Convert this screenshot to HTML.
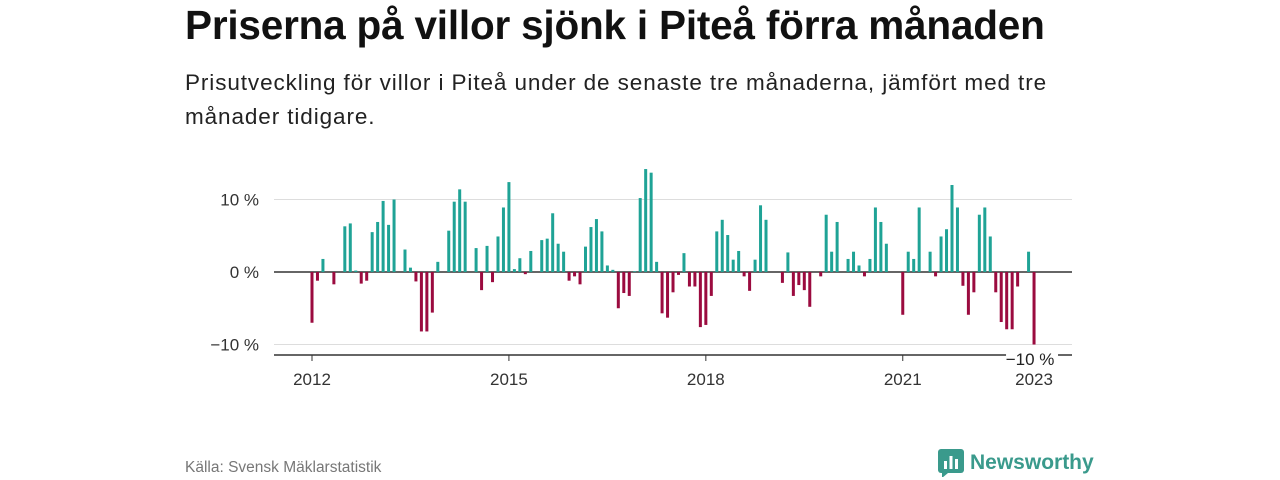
<!DOCTYPE html>
<html><head><meta charset="utf-8"><style>
body{margin:0;width:1280px;height:480px;background:#fff;font-family:"Liberation Sans","DejaVu Sans",sans-serif;overflow:hidden;position:relative}
.t{position:absolute;left:185px;top:2px;font-size:40.5px;font-weight:bold;color:#111;margin:0;letter-spacing:-0.2px;white-space:nowrap}
.s{position:absolute;left:185px;top:66px;font-size:22.5px;line-height:34px;color:#222;width:880px;margin:0;letter-spacing:0.9px}
.f{position:absolute;left:185px;top:459px;font-size:15.5px;color:#777}
.logo{position:absolute;left:938px;top:449px;display:flex;align-items:center;gap:6px;font-size:21px;font-weight:bold;color:#3a9a8c}
</style></head><body>
<h1 class="t">Priserna på villor sjönk i Piteå förra månaden</h1>
<p class="s">Prisutveckling för villor i Piteå under de senaste tre månaderna, jämfört med tre månader tidigare.</p>
<svg id="c" width="1280" height="480" style="position:absolute;left:0;top:0" font-family="Liberation Sans, DejaVu Sans, sans-serif"></svg>
<div class="f">Källa: Svensk Mäklarstatistik</div>
<div class="logo"><svg width="26" height="28" viewBox="0 0 26 28"><rect x="0" y="0" width="26" height="24" rx="3" fill="#3a9a8c"/><polygon points="4,24 10,24 4,29" fill="#3a9a8c"/><rect x="6" y="12" width="3" height="8" fill="#fff"/><rect x="11.5" y="7" width="3" height="13" fill="#fff"/><rect x="17" y="10" width="3" height="10" fill="#fff"/></svg><span>Newsworthy</span></div>
<script>
const values=[-7,-1.2,1.8,0,-1.7,0,6.3,6.7,0.2,-1.6,-1.2,5.5,6.9,9.8,6.5,10,0,3.1,0.6,-1.3,-8.2,-8.2,-5.6,1.4,0,5.7,9.7,11.4,9.7,0,3.3,-2.5,3.6,-1.4,4.9,8.9,12.4,0.4,1.9,-0.3,2.9,0,4.4,4.6,8.1,3.9,2.8,-1.2,-0.6,-1.7,3.5,6.2,7.3,5.6,0.9,0.3,-5,-2.9,-3.3,0.1,10.2,14.2,13.7,1.4,-5.7,-6.3,-2.8,-0.4,2.6,-2,-2,-7.6,-7.3,-3.3,5.6,7.2,5.1,1.7,2.9,-0.6,-2.6,1.7,9.2,7.2,0,0,-1.5,2.7,-3.3,-1.8,-2.5,-4.8,0,-0.6,7.9,2.8,6.9,0,1.8,2.8,0.9,-0.6,1.8,8.9,6.9,3.9,0,0,-5.9,2.8,1.8,8.9,0,2.8,-0.6,4.9,5.9,12,8.9,-1.9,-5.9,-2.8,7.9,8.9,4.9,-2.8,-6.9,-7.9,-7.9,-2,0,2.8,-10];
const startYear=2012;
const yTicks=[10,0,-10];
const yTickLabels=["10 %","0 %","−10 %"];
const xTickYears=[2012,2015,2018,2021,2023];
const svg=document.getElementById('c');const NS='http://www.w3.org/2000/svg';
const X0=312,MW=5.47,Y0=272,PY=7.25,L=274,R=1072;
const x=i=>X0+i*MW, y=v=>Y0-v*PY;
function mk(t,a){const e=document.createElementNS(NS,t);for(const k in a)e.setAttribute(k,a[k]);svg.appendChild(e);return e;}
yTicks.forEach((t,k)=>{
 const g=mk('line',{x1:L,x2:R,y1:y(t),y2:y(t),stroke:t===0?'#333':'#ddd','stroke-width':t===0?1.5:1});
 
 
 const l=mk('text',{x:259,y:y(t)+6,'text-anchor':'end','font-size':17,fill:'#333'});l.textContent=yTickLabels[k];
 
 
});
values.forEach((v,i)=>{if(v===0)return;
 const r=mk('rect',{x:x(i)-1.5,width:3,y:Math.min(y(v),Y0),height:Math.abs(v*PY),fill:v>0?'#1fa396':'#9b0b3f'});
 
 
});
const ax=mk('line',{x1:L,x2:R,y1:355,y2:355,stroke:'#333','stroke-width':1.5});


xTickYears.forEach(yr=>{const xi=x((yr-startYear)*12);
 const t=mk('line',{x1:xi,x2:xi,y1:355,y2:361,stroke:'#333'});
 
 
 const l=mk('text',{x:xi,y:385,'text-anchor':'middle','font-size':17,fill:'#333'});l.textContent=yr;
 
 
});
const last=values.length-1;
const bg=mk('rect',{x:x(last)-28,y:347,width:52,height:20,fill:'#fff'});


const lv=mk('text',{x:x(last)-4,y:365,'text-anchor':'middle','font-size':17,fill:'#222'});lv.textContent=yTickLabels[2];


</script>
</body></html>
